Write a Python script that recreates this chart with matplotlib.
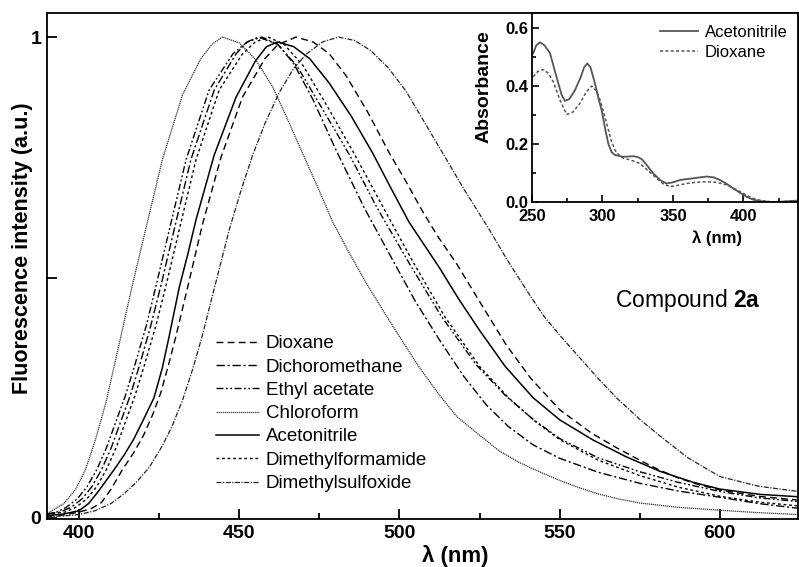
import matplotlib
matplotlib.use('Agg')
import matplotlib.pyplot as plt
from matplotlib.ticker import MultipleLocator, FixedLocator, FixedFormatter

plt.rcParams['font.family'] = ['Liberation Sans', 'DejaVu Sans']
plt.rcParams['mathtext.fontset'] = 'custom'
plt.rcParams['mathtext.rm'] = 'Liberation Sans'
plt.rcParams['mathtext.bf'] = 'Liberation Sans:bold'

# --- fluorescence spectra ---
chloroform_wl = [390, 395.3, 399, 402, 405, 408.4, 413, 416.5, 420.8, 426, 432.3, 438, 441.5, 444.7,
                 450, 455, 460.4, 465, 469.8, 475, 479.2, 484, 489.5, 495, 500, 506, 512.5, 518, 525,
                 531, 537.5, 544, 550, 556, 562, 568, 575, 587, 600, 612, 624.5]
chloroform_int = [0.009, 0.03, 0.06, 0.1, 0.16, 0.24, 0.376, 0.48, 0.6, 0.745, 0.88, 0.955, 0.985, 1.0,
                  0.988, 0.954, 0.897, 0.83, 0.758, 0.68, 0.615, 0.555, 0.49, 0.43, 0.377, 0.315, 0.255,
                  0.21, 0.172, 0.14, 0.115, 0.095, 0.078, 0.063, 0.05, 0.04, 0.031, 0.022, 0.016, 0.011,
                  0.007]

dioxane_wl = [390, 395, 400, 404, 407, 410, 413.5, 417, 420, 423, 425.5, 428, 430.2, 433.9, 438.5, 444.3,
              451, 458, 462, 467.7, 473, 478, 483.3, 490, 496.9, 502, 507, 512, 517.7, 525, 533.3, 541,
              550, 560, 568, 575, 581, 587, 594, 600, 612, 624.5]
dioxane_int = [0.004, 0.006, 0.012, 0.02, 0.032, 0.06, 0.1, 0.135, 0.17, 0.215, 0.26, 0.32, 0.377, 0.48,
               0.61, 0.75, 0.875, 0.955, 0.984, 1.0, 0.99, 0.966, 0.92, 0.845, 0.758, 0.7, 0.64, 0.585,
               0.53, 0.45, 0.36, 0.29, 0.225, 0.176, 0.145, 0.12, 0.1, 0.083, 0.068, 0.058, 0.045, 0.037]

acn_wl = [390, 395, 400, 403, 406, 410.9, 414, 417, 420, 423.4, 426, 428.1, 431.3, 434, 436.5, 442.2, 449,
          455, 458.5, 462, 467, 472, 478, 485, 491.7, 497, 503, 508, 512.5, 518.5, 525, 533, 541.7, 550,
          560.4, 570.8, 581.25, 591.7, 600, 612.5, 624.5]
acn_int = [0.005, 0.008, 0.015, 0.03, 0.055, 0.1, 0.13, 0.163, 0.203, 0.25, 0.312, 0.377, 0.48, 0.55, 0.62,
           0.755, 0.875, 0.95, 0.98, 0.99, 0.98, 0.955, 0.905, 0.835, 0.758, 0.69, 0.615, 0.565, 0.52,
           0.455, 0.39, 0.315, 0.25, 0.204, 0.162, 0.127, 0.097, 0.074, 0.06, 0.049, 0.044]

dcm_wl = [390, 394, 397.5, 401, 404, 407, 410, 413, 416, 419, 422.4, 425.8, 429.7, 434.9, 442.2, 449,
          452.5, 456, 462, 467, 473, 480.2, 489, 497.9, 505, 512.5, 520, 527.1, 534, 541.7, 550, 562, 575,
          587, 600, 612, 624.5]
dcm_int = [0.008, 0.012, 0.022, 0.04, 0.065, 0.1, 0.145, 0.2, 0.255, 0.32, 0.4, 0.49, 0.6, 0.745, 0.89,
           0.965, 0.99, 1.0, 0.985, 0.945, 0.87, 0.765, 0.645, 0.536, 0.45, 0.37, 0.295, 0.235, 0.19,
           0.152, 0.124, 0.095, 0.072, 0.056, 0.043, 0.03, 0.02]

etoac_wl = [390, 393, 396, 399.5, 402.5, 405.5, 408.5, 411.5, 414.5, 417.5, 421, 424.3, 428.2, 433.4,
            440.6, 448, 452.5, 457, 462, 468, 476, 484.4, 493, 503, 513, 524, 533, 541.7, 550, 562, 575,
            587, 600, 612, 624.5]
etoac_int = [0.008, 0.012, 0.022, 0.04, 0.065, 0.1, 0.145, 0.2, 0.255, 0.32, 0.4, 0.49, 0.6, 0.745, 0.89,
             0.965, 0.99, 1.0, 0.985, 0.94, 0.85, 0.755, 0.645, 0.53, 0.42, 0.318, 0.255, 0.205, 0.165,
             0.125, 0.096, 0.074, 0.055, 0.042, 0.034]

dmf_wl = [390, 395.5, 399, 402.5, 405.5, 408.5, 411.5, 414.5, 417.5, 420.5, 424, 427.4, 431.3, 436.5,
          443.75, 451, 455, 459, 464, 470, 478, 485.9, 495, 504, 514, 525, 534, 542.5, 550, 562, 575, 587,
          600, 612, 624.5]
dmf_int = [0.008, 0.012, 0.022, 0.04, 0.065, 0.1, 0.145, 0.2, 0.255, 0.32, 0.4, 0.49, 0.6, 0.745, 0.89,
           0.965, 0.99, 1.0, 0.985, 0.94, 0.85, 0.757, 0.645, 0.535, 0.42, 0.315, 0.25, 0.2, 0.163, 0.12,
           0.088, 0.064, 0.045, 0.033, 0.025]

dmso_wl = [390, 395, 400, 405, 410, 414, 418, 421.9, 426, 429, 432.3, 435.5, 438.5, 442.7, 446.9, 450.5,
           454.2, 458, 462.5, 467, 471, 476, 481, 486, 491, 496.5, 502, 512.5, 520, 528, 533.3, 540, 545,
           550, 556, 562, 567.7, 575, 581, 590, 600, 612, 624.5]
dmso_int = [0.003, 0.004, 0.007, 0.015, 0.03, 0.05, 0.075, 0.105, 0.15, 0.19, 0.245, 0.31, 0.38, 0.49,
            0.6, 0.68, 0.755, 0.82, 0.885, 0.935, 0.965, 0.99, 1.0, 0.993, 0.972, 0.936, 0.888, 0.77,
            0.685, 0.6, 0.54, 0.47, 0.42, 0.38, 0.335, 0.29, 0.25, 0.205, 0.172, 0.125, 0.086, 0.066,
            0.055]

# --- absorption spectra (inset) ---
abs_acn_wl = [250.9, 253, 255.7, 259, 262.8, 265.5, 268.7, 271, 273.4, 276.5, 280.5, 284.5, 287, 289.2,
              291.5, 294.7, 297, 299.4, 302, 304.1, 306.5, 308.9, 314.8, 322, 325, 327.8, 331, 336, 341,
              345.5, 350, 355, 364.4, 373.9, 379, 383.3, 388, 392.8, 397.5, 402.3, 407, 411.8, 421, 430, 438]
abs_acn = [0.513, 0.54, 0.551, 0.54, 0.513, 0.465, 0.409, 0.37, 0.349, 0.355, 0.386, 0.43, 0.465, 0.478,
           0.465, 0.409, 0.36, 0.317, 0.25, 0.202, 0.172, 0.162, 0.156, 0.158, 0.155, 0.148, 0.13, 0.099,
           0.075, 0.064, 0.068, 0.076, 0.082, 0.088, 0.085, 0.076, 0.063, 0.047, 0.032, 0.018, 0.008,
           0.003, 0.0, 0.002, 0.005]
abs_diox_wl = [250.9, 254, 258, 261.5, 265.1, 270, 274.6, 279, 284, 288.5, 292.3, 295.5, 298.3, 303, 306,
               308.9, 312, 314.8, 320, 326.6, 332, 338.4, 343, 347.9, 353, 359.7, 366, 373.9, 381, 388.1,
               394, 399.9, 405, 409.3, 415, 421, 430, 438]
abs_diox = [0.432, 0.45, 0.457, 0.445, 0.415, 0.35, 0.302, 0.31, 0.34, 0.38, 0.4, 0.385, 0.352, 0.271,
            0.215, 0.179, 0.16, 0.151, 0.145, 0.133, 0.11, 0.082, 0.063, 0.053, 0.057, 0.064, 0.068, 0.07,
            0.068, 0.059, 0.045, 0.03, 0.016, 0.009, 0.003, 0.0, 0.002, 0.004]

fig = plt.figure(figsize=(7.99, 5.67), dpi=100)
ax = fig.add_axes([0.0588, 0.084, 0.9405, 0.893])

ax.plot(dioxane_wl, dioxane_int, color='black', lw=1.0, dashes=(5, 3), label='Dioxane')
ax.plot(dcm_wl, dcm_int, color='black', lw=1.0, dashes=(6, 2, 1.5, 2), label='Dichoromethane')
ax.plot(etoac_wl, etoac_int, color='black', lw=1.0, dashes=(5, 1.8, 1.3, 1.8, 1.3, 1.8), label='Ethyl acetate')
ax.plot(chloroform_wl, chloroform_int, color='#333333', lw=0.9, dashes=(1, 0.6), label='Chloroform')
ax.plot(acn_wl, acn_int, color='black', lw=1.1, label='Acetonitrile')
ax.plot(dmf_wl, dmf_int, color='black', lw=1.0, dashes=(2, 2), label='Dimethylformamide')
ax.plot(dmso_wl, dmso_int, color='#222222', lw=0.9, dashes=(4, 1.2, 1, 1.2), label='Dimethylsulfoxide')

ax.set_xlim(390, 624.5)
ax.set_ylim(-0.003, 1.05)
ax.xaxis.set_major_locator(MultipleLocator(50))
ax.xaxis.set_minor_locator(MultipleLocator(25))
ax.yaxis.set_major_locator(FixedLocator([0, 0.5, 1]))
ax.yaxis.set_major_formatter(FixedFormatter(['0', '', '1']))
ax.tick_params(which='both', direction='in', width=1.3, top=False, right=False)
ax.tick_params(which='major', length=7, labelsize=14, pad=4)
ax.tick_params(which='minor', length=4)
for lab in ax.get_xticklabels() + ax.get_yticklabels():
    lab.set_fontweight('bold')
for s in ax.spines.values():
    s.set_linewidth(1.3)

ax.set_xlabel('λ (nm)', fontsize=16, fontweight='bold', va='top')
ax.xaxis.set_label_coords(0.543, -0.05)
ax.set_ylabel('Fluorescence intensity (a.u.)', fontsize=15.5, fontweight='bold')
ax.yaxis.set_label_coords(-0.019, 0.535)

ax.legend(loc='upper left', bbox_to_anchor=(0.225, 0.364), frameon=False, fontsize=13.5,
          handlelength=2.3, handletextpad=0.35, labelspacing=0.33, borderpad=0, borderaxespad=0)

ax.text(0.756, 0.433, 'Compound $\\mathbf{2a}$', transform=ax.transAxes, fontsize=16.5,
        ha='left', va='center')

# --- inset ---
ins = fig.add_axes([0.6658, 0.6437, 0.333, 0.3333])
ins.set_facecolor('white')
ins.plot(abs_acn_wl, abs_acn, color='#555555', lw=1.3, label='Acetonitrile')
ins.plot(abs_diox_wl, abs_diox, color='#555555', lw=1.1, dashes=(2, 1.5), label='Dioxane')
ins.set_xlim(250, 438.7)
ins.set_ylim(0, 0.652)
ins.xaxis.set_major_locator(MultipleLocator(50))
ins.xaxis.set_minor_locator(MultipleLocator(25))
ins.yaxis.set_major_locator(MultipleLocator(0.2))
ins.yaxis.set_minor_locator(MultipleLocator(0.1))
ins.tick_params(which='both', direction='in', width=1.2)
ins.tick_params(which='major', length=5, labelsize=12)
ins.tick_params(axis='x', which='major', pad=5)
ins.tick_params(axis='y', which='major', pad=2.5)
ins.tick_params(which='minor', length=3)
for lab in ins.get_xticklabels() + ins.get_yticklabels():
    lab.set_fontweight('bold')
for s in ins.spines.values():
    s.set_linewidth(1.3)
ins.set_xlabel('λ (nm)', fontsize=12, fontweight='bold', va='top')
ins.xaxis.set_label_coords(0.696, -0.148)
ins.set_ylabel('Absorbance', fontsize=14, fontweight='bold')
ins.yaxis.set_label_coords(-0.147, 0.608)
ins.legend(loc='upper left', bbox_to_anchor=(0.48, 0.937), frameon=False, fontsize=12,
           handlelength=2.3, handletextpad=0.4, labelspacing=0.29, borderpad=0, borderaxespad=0)

fig.savefig('out.png', dpi=100)
